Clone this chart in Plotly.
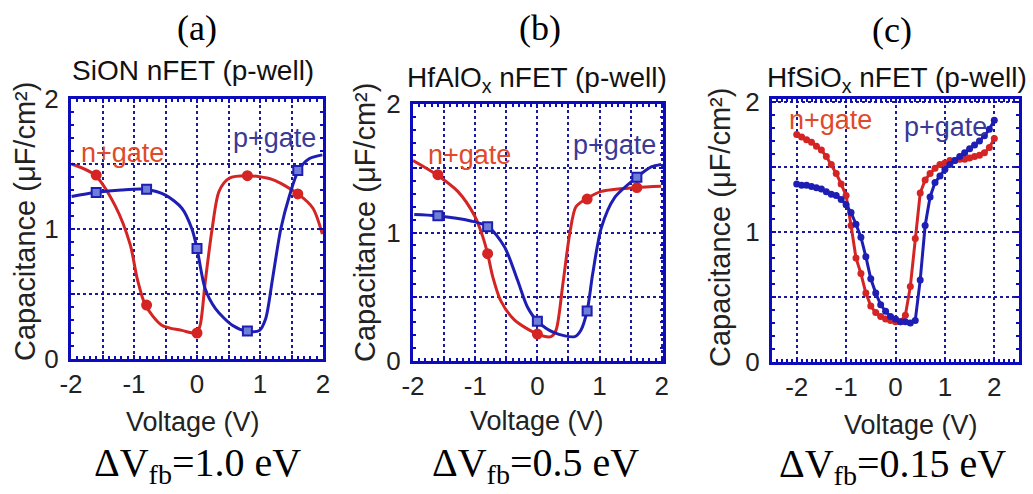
import plotly.graph_objects as go

# ---------------- data ----------------
# Panel (a) SiON
a_n_x = [-1.99, -1.62, -1.30, -1.06, -0.95, -0.82, -0.56, -0.24, -0.01, 0.05, 0.13, 0.24, 0.35, 0.51, 0.79, 1.20, 1.60, 1.84, 1.99]
a_n_y = [1.50, 1.415, 1.18, 0.88, 0.62, 0.415, 0.26, 0.22, 0.20, 0.26, 0.59, 1.00, 1.29, 1.39, 1.41, 1.38, 1.27, 1.16, 0.96]
a_p_x = [-1.99, -1.62, -1.20, -0.82, -0.50, -0.24, -0.08, 0.00, 0.13, 0.29, 0.56, 0.79, 0.99, 1.09, 1.20, 1.33, 1.47, 1.61, 1.78, 1.99]
a_p_y = [1.25, 1.28, 1.30, 1.305, 1.26, 1.16, 1.00, 0.85, 0.54, 0.39, 0.26, 0.215, 0.22, 0.31, 0.62, 1.00, 1.26, 1.45, 1.54, 1.57]
a_mk_x = [-1.6, -0.8, 0.0, 0.8, 1.6]
a_n_mk_y = [1.415, 0.415, 0.20, 1.41, 1.27]
a_p_mk_y = [1.28, 1.305, 0.85, 0.215, 1.45]

# Panel (b) HfAlOx
b_n_x = [-2.0, -1.62, -1.28, -1.01, -0.88, -0.80, -0.72, -0.59, -0.37, 0.0, 0.22, 0.30, 0.41, 0.52, 0.62, 0.78, 1.03, 1.59, 1.99]
b_n_y = [1.56, 1.45, 1.32, 1.13, 0.97, 0.835, 0.66, 0.47, 0.32, 0.21, 0.19, 0.24, 0.60, 0.99, 1.20, 1.26, 1.32, 1.35, 1.36]
b_p_x = [-1.98, -1.62, -1.07, -0.79, -0.53, -0.32, -0.16, 0.0, 0.27, 0.60, 0.70, 0.80, 0.89, 1.03, 1.24, 1.60, 1.83, 1.99]
b_p_y = [1.14, 1.13, 1.09, 1.045, 0.89, 0.63, 0.42, 0.31, 0.22, 0.19, 0.24, 0.39, 0.68, 1.04, 1.27, 1.43, 1.51, 1.53]
b_mk_x = [-1.6, -0.8, 0.0, 0.8, 1.6]
b_n_mk_y = [1.45, 0.835, 0.21, 1.26, 1.35]
b_p_mk_y = [1.13, 1.045, 0.31, 0.39, 1.43]

# Panel (c) HfSiOx
c_x = [-2.0, -1.9, -1.8, -1.7, -1.6, -1.5, -1.4, -1.3, -1.2, -1.1, -1.0,
       -0.9, -0.8, -0.7, -0.6, -0.5, -0.4, -0.3, -0.2, -0.1, 0.0,
       0.1, 0.2, 0.3, 0.4, 0.5, 0.6, 0.7, 0.8, 0.9, 1.0,
       1.1, 1.2, 1.3, 1.4, 1.5, 1.6, 1.7, 1.8, 1.9, 2.0]
c_n_y = [1.75, 1.73, 1.71, 1.69, 1.66, 1.63, 1.58, 1.52, 1.45, 1.37, 1.28,
         1.05, 0.80, 0.68, 0.53, 0.43, 0.38, 0.35, 0.33, 0.32, 0.31,
         0.31, 0.36, 0.58, 0.95, 1.30, 1.40, 1.45, 1.49, 1.52, 1.53,
         1.55, 1.55, 1.56, 1.56, 1.57, 1.58, 1.59, 1.61, 1.65, 1.72]
c_p_y = [1.37, 1.36, 1.36, 1.35, 1.34, 1.33, 1.31, 1.29, 1.28, 1.25, 1.21,
         1.15, 1.06, 0.96, 0.81, 0.64, 0.53, 0.44, 0.39, 0.35, 0.33,
         0.31, 0.31, 0.30, 0.32, 0.63, 1.05, 1.27, 1.38, 1.43, 1.48,
         1.52, 1.55, 1.58, 1.61, 1.64, 1.67, 1.70, 1.74, 1.79, 1.86]

panel_letters = ["(a)", "(b)", "(c)"]
panel_titles = ["SiON nFET (p-well)", "HfAlO<sub>x</sub> nFET (p-well)", "HfSiO<sub>x</sub> nFET (p-well)"]
panel_dvfb = ["ΔV<sub>fb</sub>=1.0 eV", "ΔV<sub>fb</sub>=0.5 eV", "ΔV<sub>fb</sub>=0.15 eV"]
x_ticks_ab = [-2, -1.5, -1, -0.5, 0, 0.5, 1, 1.5, 2]
x_ticktext_ab = ["-2", "", "-1", "", "0", "", "1", "", "2"]
x_ticks_c = [-2, -1, 0, 1, 2]
x_ticktext_c = ["-2", "-1", "0", "1", "2"]
y_ticks = [0, 0.5, 1, 1.5, 2]
y_ticktext = ["0", "", "1", "", "2"]

RED = "#d42424"
BLUE = "#1e1eb4"
NLAB = "#e04a2a"
PLAB = "#3a3a96"
FRAME = "#0c0cbc"
GRID = "#1a1a9c"
SANS = "Liberation Sans, Arial, sans-serif"
SERIF = "Liberation Serif, Times New Roman, serif"

W, H = 1033, 494
def px(x):
    return x / W
def py(y):
    return 1 - y / H

fig = go.Figure()

def add_line(x, y, color, ax):
    fig.add_trace(go.Scatter(x=x, y=y, mode="lines", line=dict(color=color, width=3, shape="spline", smoothing=0.8),
                             xaxis="x" + ax, yaxis="y" + ax, showlegend=False, hoverinfo="skip"))

def add_markers(x, y, color, symbol, ax, fill=None):
    fig.add_trace(go.Scatter(x=x, y=y, mode="markers",
                             marker=dict(color=fill or color, symbol=symbol, size=9, line=dict(color=color, width=2)),
                             xaxis="x" + ax, yaxis="y" + ax, showlegend=False))

# (a)
add_line(a_n_x, a_n_y, RED, "")
add_line(a_p_x, a_p_y, BLUE, "")
add_markers(a_mk_x, a_n_mk_y, RED, "circle", "")
add_markers(a_mk_x, a_p_mk_y, BLUE, "square", "", fill="#6f7fd8")
# (b)
add_line(b_n_x, b_n_y, RED, "2")
add_line(b_p_x, b_p_y, BLUE, "2")
add_markers(b_mk_x, b_n_mk_y, RED, "circle", "2")
add_markers(b_mk_x, b_p_mk_y, BLUE, "square", "2", fill="#6f7fd8")
# (c)
fig.add_trace(go.Scatter(x=c_x, y=c_n_y, mode="lines+markers", line=dict(color=RED, width=3),
                         marker=dict(color=RED, size=7), xaxis="x3", yaxis="y3", showlegend=False))
fig.add_trace(go.Scatter(x=c_x, y=c_p_y, mode="lines+markers", line=dict(color=BLUE, width=3),
                         marker=dict(color=BLUE, size=7), xaxis="x3", yaxis="y3", showlegend=False))

domains = [
    dict(x=[px(71), px(323)], y=[py(359), py(99)], xr=[-2, 2], yr=[0, 2], tv=x_ticks_ab, tt=x_ticktext_ab),
    dict(x=[px(413), px(663)], y=[py(361), py(104)], xr=[-2, 2.02], yr=[0, 2], tv=x_ticks_ab, tt=x_ticktext_ab),
    dict(x=[px(772), px(1019)], y=[py(362), py(99)], xr=[-2.5, 2.5], yr=[0, 2.023], tv=x_ticks_c, tt=x_ticktext_c),
]

layout = dict(width=W, height=H, margin=dict(l=0, r=0, t=0, b=0, autoexpand=False),
              paper_bgcolor="white", plot_bgcolor="white", showlegend=False)

for i, d in enumerate(domains):
    suf = "" if i == 0 else str(i + 1)
    common = dict(showline=True, linecolor=FRAME, linewidth=3, mirror="ticks",
                  ticks="inside", ticklen=4, tickwidth=2, tickcolor=FRAME,
                  showgrid=True, gridcolor=GRID, gridwidth=2, griddash="dot",
                  zeroline=False, automargin=False,
                  tickfont=dict(family=SANS, size=26, color="#222"),
                  minor=dict(dtick=0.1, ticks="inside", ticklen=3, tickwidth=1.5, tickcolor=FRAME, showgrid=False),
                  fixedrange=True)
    layout["xaxis" + suf] = dict(common, domain=d["x"], range=d["xr"], anchor="y" + suf,
                                 tickmode="array", tickvals=d["tv"], ticktext=d["tt"], ticklabelstandoff=0)
    layout["yaxis" + suf] = dict(common, domain=d["y"], range=d["yr"], anchor="x" + suf,
                                 tickmode="array", tickvals=y_ticks, ticktext=y_ticktext, ticklabelstandoff=4)

fig.update_layout(**layout)

ann = []
letter_pos = [(197, 28), (540, 28), (892, 30)]
title_pos = [(193, 70), (537, 80), (897, 80)]
dv_pos = [(197, 465), (535, 465), (892, 466)]
xt_pos = [(193, 422), (537, 421), (911, 425)]
yt_pos = [(25, 222), (365, 223), (720, 228)]
nlab_pos = [(122, 153), (469, 155), (830, 120)]
plab_pos = [(274, 138), (614, 145), (945, 127)]

for i in range(3):
    ann.append(dict(text=panel_letters[i], x=px(letter_pos[i][0]), y=py(letter_pos[i][1]),
                    font=dict(family=SERIF, size=36, color="black")))
    ann.append(dict(text=panel_titles[i], x=px(title_pos[i][0]), y=py(title_pos[i][1]),
                    font=dict(family=SANS, size=28, color="#111")))
    ann.append(dict(text=panel_dvfb[i], x=px(dv_pos[i][0]), y=py(dv_pos[i][1]),
                    font=dict(family=SERIF, size=40, color="black")))
    ann.append(dict(text="Voltage (V)", x=px(xt_pos[i][0]), y=py(xt_pos[i][1]),
                    font=dict(family=SANS, size=27, color="#222")))
    ann.append(dict(text="Capacitance (μF/cm²)", x=px(yt_pos[i][0]), y=py(yt_pos[i][1]), textangle=-90,
                    font=dict(family=SANS, size=29, color="#222")))
    ann.append(dict(text="n+gate", x=px(nlab_pos[i][0]), y=py(nlab_pos[i][1]),
                    font=dict(family=SANS, size=27, color=NLAB)))
    ann.append(dict(text="p+gate", x=px(plab_pos[i][0]), y=py(plab_pos[i][1]),
                    font=dict(family=SANS, size=27, color=PLAB)))

for a in ann:
    a.update(xref="paper", yref="paper", showarrow=False, xanchor="center", yanchor="middle")

fig.update_layout(annotations=ann)
fig.write_html("out.html")
